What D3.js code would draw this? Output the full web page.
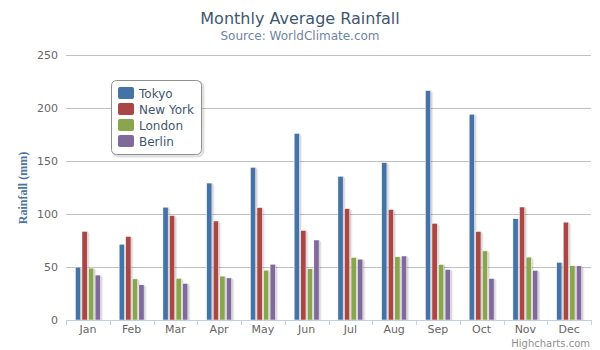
<!DOCTYPE html>
<html><head><meta charset="utf-8">
<script src="https://cdn.jsdelivr.net/npm/d3@7"></script>
<style>body{margin:0;background:#fff}svg{display:block;font-family:"DejaVu Sans",sans-serif}</style>
</head><body><svg id="c" width="600" height="350"></svg>
<script>
const months = ["Jan","Feb","Mar","Apr","May","Jun","Jul","Aug","Sep","Oct","Nov","Dec"];
const seriesNames = ["Tokyo","New York","London","Berlin"];
const tokyo = [49.9,71.5,106.4,129.2,144.0,176.0,135.6,148.5,216.4,194.1,95.6,54.4];
const newYork = [83.6,78.8,98.5,93.4,106.0,84.5,105.0,104.3,91.2,83.5,106.6,92.3];
const london = [48.9,38.8,39.3,41.4,47.0,48.3,59.0,59.6,52.4,65.2,59.3,51.2];
const berlin = [42.4,33.2,34.5,39.7,52.6,75.5,57.4,60.4,47.6,39.1,46.8,51.1];
const yTicks = [0,50,100,150,200,250];
const colors = ["#4572A7","#AA4643","#89A54E","#80699B"];
const seriesData = [tokyo,newYork,london,berlin];

const svg = d3.select("#c");
const m = {l:66, r:591, t:55, b:320};
const x = d3.scaleBand().domain(months).range([m.l,m.r]).paddingInner(0).paddingOuter(0);
// emulate highcharts groupPadding .2 & pointPadding .1
const grp = x.bandwidth()*0.2, pw = (x.bandwidth()-2*grp)/4;
const y = d3.scaleLinear().domain([0,250]).range([m.b,m.t]);

svg.append("text").attr("x",300).attr("y",24).attr("text-anchor","middle")
  .attr("fill","#3E576F").attr("font-size",16).text("Monthly Average Rainfall");
svg.append("text").attr("x",300).attr("y",40).attr("text-anchor","middle")
  .attr("fill","#6D869F").attr("font-size",12).text("Source: WorldClimate.com");

// grid
svg.append("g").selectAll("line").data(yTicks.filter(d=>d>0)).join("line")
  .attr("x1",m.l).attr("x2",m.r).attr("y1",d=>Math.round(y(d))+0.5).attr("y2",d=>Math.round(y(d))+0.5)
  .attr("stroke","#C0C0C0").attr("stroke-width",1);
svg.append("g").selectAll("text").data(yTicks).join("text")
  .attr("x",58).attr("y",d=>y(d)+4).attr("text-anchor","end")
  .attr("fill","#666").attr("font-size",11).text(d=>d);
svg.append("text").attr("transform","translate(27,188) rotate(-90)").attr("text-anchor","middle")
  .attr("fill","#4d759e").attr("font-size",12).attr("font-weight","bold")
  .attr("font-family","'Liberation Serif',serif").text("Rainfall (mm)");

// bars
const bars = svg.append("g");
seriesData.forEach((vals,si)=>{
  vals.forEach((v,i)=>{
    const bx = x(months[i]) + grp + pw*si + pw*0.1;
    const bw = pw*0.8;
    const top = y(v);
    for (let k=3;k>=1;k--){
      bars.append("rect").attr("x",bx+k).attr("y",top+k-1).attr("width",bw).attr("height",m.b-top-k+1)
        .attr("fill","#000").attr("opacity",0.05*(4-k)/1.5);
    }
    bars.append("rect").attr("x",bx).attr("y",top).attr("width",bw).attr("height",m.b-top)
      .attr("fill",colors[si]).attr("stroke","#fff").attr("stroke-width",0.5);
  });
});

// x axis
svg.append("line").attr("x1",m.l).attr("x2",m.r).attr("y1",m.b+0.5).attr("y2",m.b+0.5).attr("stroke","#C0D0E0");
svg.append("g").selectAll("line").data(d3.range(13)).join("line")
  .attr("x1",d=>Math.round(m.l+d*x.bandwidth())+0.5).attr("x2",d=>Math.round(m.l+d*x.bandwidth())+0.5)
  .attr("y1",m.b).attr("y2",m.b+5).attr("stroke","#C0D0E0");
svg.append("g").selectAll("text").data(months).join("text")
  .attr("x",d=>x(d)+x.bandwidth()/2).attr("y",333).attr("text-anchor","middle")
  .attr("fill","#666").attr("font-size",11).text(d=>d);

// legend
const lg = svg.append("g").attr("transform","translate(111,80)");
lg.append("rect").attr("x",2).attr("y",2).attr("width",90).attr("height",74).attr("rx",5)
  .attr("fill","none").attr("stroke","#000").attr("stroke-opacity",0.12).attr("stroke-width",3);
lg.append("rect").attr("x",0.5).attr("y",0.5).attr("width",90).attr("height",74).attr("rx",5)
  .attr("fill","#fff").attr("stroke","#909090");
seriesNames.forEach((n,i)=>{
  lg.append("rect").attr("x",7).attr("y",7+i*16).attr("width",16).attr("height",12).attr("rx",2)
    .attr("fill",colors[i]);
  lg.append("text").attr("x",28).attr("y",17.5+i*16).attr("fill","#3E576F").attr("font-size",12).text(n);
});

svg.append("text").attr("x",590).attr("y",346.5).attr("text-anchor","end")
  .attr("fill","#909090").attr("font-size",10).text("Highcharts.com");
</script></body></html>
